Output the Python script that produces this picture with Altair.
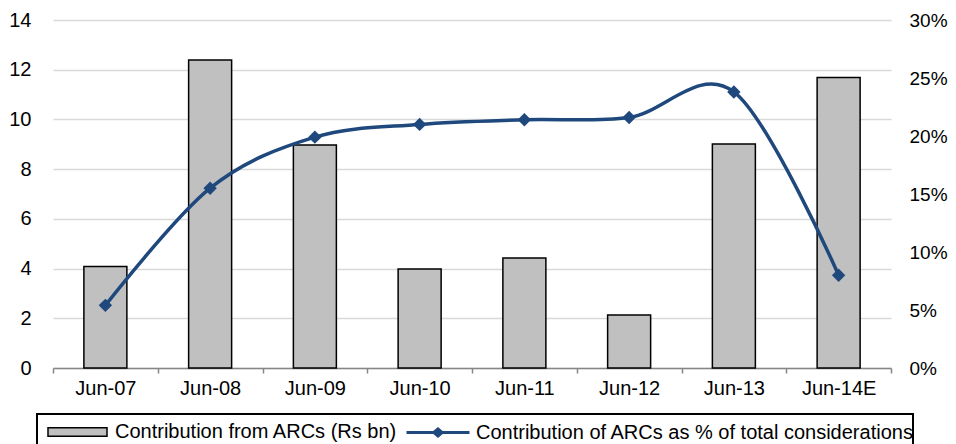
import altair as alt
import pandas as pd

periods = ["Jun-07", "Jun-08", "Jun-09", "Jun-10", "Jun-11", "Jun-12", "Jun-13", "Jun-14E"]
arcs_bn = [4.08, 12.39, 8.97, 3.98, 4.43, 2.13, 9.01, 11.69]
arcs_pct = [5.4, 15.5, 19.9, 21.0, 21.4, 21.6, 23.8, 8.0]
left_ticks = [0, 2, 4, 6, 8, 10, 12, 14]
right_ticks = [0, 0.05, 0.10, 0.15, 0.20, 0.25, 0.30]
bar_label = "Contribution from ARCs (Rs bn)"
line_label = "Contribution of ARCs as % of total considerations"

df = pd.DataFrame({
    "period": periods,
    "bn": arcs_bn,
    "pct": [p / 100 for p in arcs_pct],
    "s1": bar_label,
    "s2": line_label,
})

FONT = "Liberation Sans"
FS = 20
BLUE = "#1F497D"
W, H = 838, 348

x_enc = alt.X(
    "period:N", sort=periods, title=None,
    scale=alt.Scale(paddingInner=0, paddingOuter=0),
    axis=alt.Axis(labelAngle=0, tickBand="extent", domainColor="#868686", domainWidth=1.5,
                  tickColor="#868686", tickWidth=1.5, tickSize=5, labelPadding=5,
                  labelFontSize=FS, labelFont=FONT, labelColor="black", grid=False),
)

bars = alt.Chart(df).mark_bar(width=43, stroke="black", strokeWidth=1.5).encode(
    x=x_enc,
    y=alt.Y("bn:Q", title=None, scale=alt.Scale(domain=[0, 14], nice=False),
            axis=alt.Axis(values=left_ticks, domain=False, ticks=False, labelPadding=22,
                          grid=True, gridColor="#d9d9d9", gridWidth=1.5,
                          labelFont=FONT, labelFontSize=FS, labelColor="black")),
    fill=alt.Fill("s1:N", scale=alt.Scale(domain=[bar_label], range=["#c0c0c0"]),
                  legend=alt.Legend(title=None, orient="none", legendX=-6, legendY=381.5,
                                    direction="horizontal",
                                    symbolType="M-1,-0.14H1V0.14H-1Z", symbolSize=3481,
                                    symbolStrokeColor="black", symbolStrokeWidth=1.5,
                                    labelFont=FONT, labelFontSize=FS, labelColor="black",
                                    labelOffset=7, labelLimit=1000, padding=0)),
)

y_right = alt.Y("pct:Q", title=None, scale=alt.Scale(domain=[0, 0.30], nice=False),
                axis=alt.Axis(orient="right", format=".0%", values=right_ticks, grid=False,
                              domain=False, ticks=False, labelPadding=18,
                              labelFont=FONT, labelFontSize=19, labelColor="black"))

line = alt.Chart(df).mark_line(interpolate="cardinal", strokeWidth=3.5).encode(
    x=x_enc,
    y=y_right,
    stroke=alt.Stroke("s2:N", scale=alt.Scale(domain=[line_label], range=[BLUE]),
                      legend=alt.Legend(title=None, orient="none", legendX=352, legendY=379.5,
                                        direction="horizontal",
                                        symbolType="M-1,0H1M-0.13,0L0,-0.11L0.13,0L0,0.11ZM0,-0.06V0.06M-0.07,0H0.07",
                                        symbolSize=3969, symbolStrokeWidth=3,
                                        symbolFillColor=BLUE,
                                        labelFont=FONT, labelFontSize=FS, labelColor="black",
                                        labelOffset=5, labelLimit=1000, padding=0)),
)

points = alt.Chart(df).mark_point(shape="diamond", filled=True, size=180, color=BLUE, opacity=1).encode(
    x=x_enc,
    y=y_right,
)

box = alt.Chart(pd.DataFrame({"k": [0]})).mark_rect(fillOpacity=0, stroke="black", strokeWidth=2).encode(
    x=alt.value(-16), x2=alt.value(860), y=alt.value(394), y2=alt.value(470)
)

chart = alt.layer(bars, alt.layer(line, points), box).resolve_scale(
    y="independent"
).properties(
    width=W, height=H,
    autosize=alt.AutoSizeParams(type="none"),
    padding={"left": 45, "top": 12, "right": 57, "bottom": 76},
).configure_view(stroke=None)

chart.save("out.html", embed_options={"renderer": "svg", "actions": False})
